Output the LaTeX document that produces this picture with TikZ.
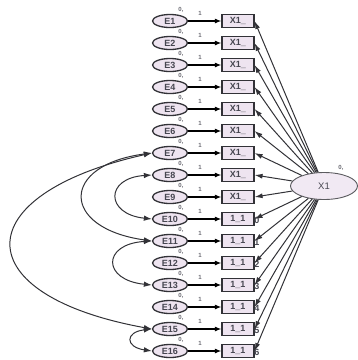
\documentclass[tikz,border=0pt]{standalone}
\usepackage{fontspec}
\setmainfont{Liberation Sans}
\usetikzlibrary{arrows.meta,shapes.geometric}
\definecolor{fillc}{RGB}{238,228,240}
\definecolor{linec}{RGB}{50,50,55}
\definecolor{txtc}{RGB}{70,70,80}
\begin{document}
\begin{tikzpicture}[x=1pt,y=-1pt,
  errnode/.style={ellipse, draw=linec, line width=1.3pt, fill=fillc, minimum width=35pt, minimum height=13pt, inner sep=0pt, font=\fontsize{9}{10}\selectfont\bfseries, text=txtc},
  obsnode/.style={rectangle, draw=linec, line width=1.1pt, fill=fillc, minimum width=32pt, minimum height=13pt, inner sep=0pt, font=\fontsize{9}{10}\selectfont\bfseries, text=txtc},
  latnode/.style={ellipse, draw=linec!80, line width=0.9pt, fill=fillc!80, minimum width=67pt, minimum height=27pt, inner sep=0pt, font=\fontsize{9.5}{10}\selectfont, text=txtc},
  smalllbl/.style={font=\fontsize{6}{6}\selectfont\bfseries, text=txtc!80, inner sep=0pt},
  onearr/.style={draw=black, line width=1.3pt, -{Latex[length=6.5pt,width=5pt]}},
  loadarr/.style={draw=linec, line width=1pt, -{Latex[length=8pt,width=5pt]}},
  covarr/.style={draw=linec, line width=1pt, {Latex[length=8pt,width=5.5pt]}-{Latex[length=8pt,width=5.5pt]}}
]
\useasboundingbox (0,0) rectangle (358,360);
\node[latnode] (X1) at (324,186) {X1};
\node[smalllbl] (X1v) at (341,168) {0,};
\foreach \i in {1,...,16}{
  \pgfmathsetmacro\yy{21+(\i-1)*22}
  \node[errnode] (E\i) at (170,\yy) {E\i};
  \node[smalllbl] (V\i) at (181,\yy-11.5) {0,};
  \node[smalllbl] (L\i) at (200,\yy-8) {1};
  \ifnum\i<10
    \node[obsnode] (R\i) at (238,\yy) {X1\_};
  \else
    \pgfmathtruncatemacro\dd{\i-10}
    \node[obsnode] (R\i) at (238,\yy) {1\_1};
    \node[font=\fontsize{9}{10}\selectfont\bfseries, text=txtc, inner sep=0pt] (D\i) at (257,\yy+1) {\dd};
  \fi
  \draw[onearr] (E\i) -- (R\i);
  \draw[loadarr] (X1) -- (R\i.east);
}
\draw[covarr] (E7.west) .. controls (-35,195) and (-35,295) .. (E15.west);
\draw[covarr] (E7.west) .. controls (60,165) and (60,228) .. (E11.west);
\draw[covarr] (E8.west) .. controls (105,178) and (105,214) .. (E10.west);
\draw[covarr] (E11.west) .. controls (102,244) and (102,280) .. (E13.west);
\draw[covarr] (E15.west) .. controls (125,332) and (125,347) .. (E16.west);
\end{tikzpicture}
\end{document}
